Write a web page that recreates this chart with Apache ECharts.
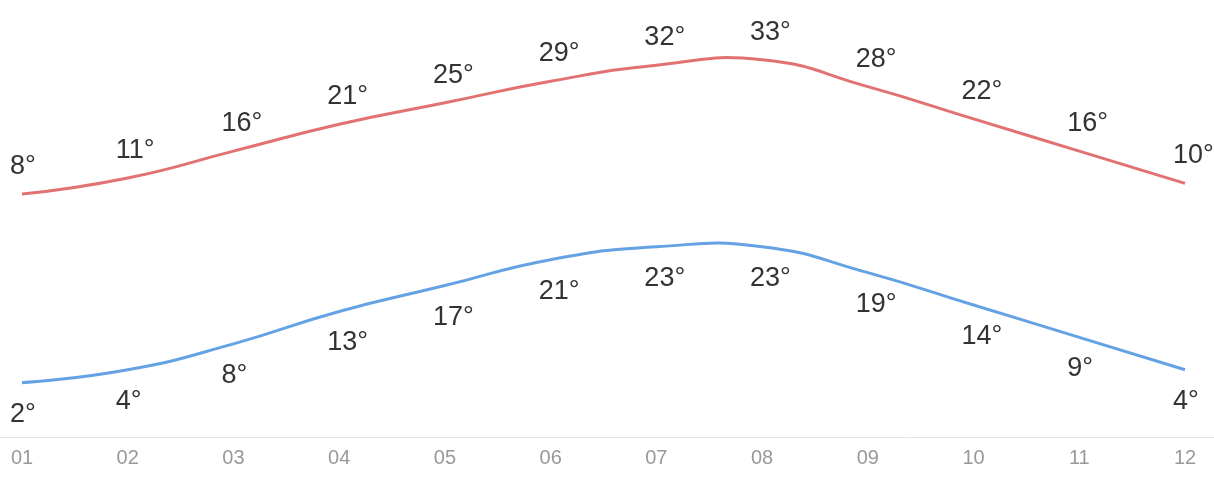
<!DOCTYPE html>
<html>
<head>
<meta charset="utf-8">
<script src="https://cdn.jsdelivr.net/npm/echarts@6/dist/echarts.min.js"></script>
<style>html,body{margin:0;padding:0;background:#fff}#c{width:1214px;height:478px}</style>
</head>
<body>
<div id="c"></div>
<script>
var months = ['01','02','03','04','05','06','07','08','09','10','11','12'];
var highTemps = [8, 11, 16, 21, 25, 29, 32, 33, 28, 22, 16, 10];
var lowTemps = [2, 4, 8, 13, 17, 21, 23, 23, 19, 14, 9, 4];

var SMOOTH = 0.5;
// Classic (unconstrained) bezier smoothing through points projected by the axes
function smoothPathItem(values, color) {
  return function (params, api) {
    if (params.dataIndex !== 0) return null;
    var pts = values.map(function (v, i) { return api.coord([i, v]); });
    var n = pts.length;
    var cps = [];
    for (var i = 0; i < n; i++) {
      var p = pts[i];
      if (i === 0 || i === n - 1) { cps.push([p[0], p[1]]); continue; }
      var prev = pts[i - 1], next = pts[i + 1];
      var vx = (next[0] - prev[0]) * SMOOTH, vy = (next[1] - prev[1]) * SMOOTH;
      var d0 = Math.hypot(p[0] - prev[0], p[1] - prev[1]);
      var d1 = Math.hypot(p[0] - next[0], p[1] - next[1]);
      var s = d0 + d1; if (s) { d0 /= s; d1 /= s; }
      cps.push([p[0] - vx * d0, p[1] - vy * d0]);
      cps.push([p[0] + vx * d1, p[1] + vy * d1]);
    }
    var d = 'M' + pts[0][0] + ' ' + pts[0][1];
    for (var j = 0; j < n - 1; j++) {
      var c0 = cps[2 * j], c1 = cps[2 * j + 1], q = pts[j + 1];
      d += ' C' + c0[0] + ' ' + c0[1] + ' ' + c1[0] + ' ' + c1[1] + ' ' + q[0] + ' ' + q[1];
    }
    return {
      type: 'path',
      shape: {pathData: d},
      style: {fill: null, stroke: color, lineWidth: 3}
    };
  };
}

var chart = echarts.init(document.getElementById('c'), null, {renderer: 'canvas'});
var labelFont = {fontFamily: '"Liberation Sans", Arial, sans-serif', fontSize: 27, color: '#333'};
var fmt = function (p) { return p.value + '°'; };
chart.setOption({
  animation: false,
  grid: [
    {left: 22, right: 29, top: 20, bottom: 41},
    {left: 0, right: 0, top: 20, bottom: 41}
  ],
  xAxis: [
    {
      type: 'category',
      data: months,
      boundaryGap: false,
      axisLine: {show: false},
      axisTick: {show: false},
      axisLabel: {color: '#999', fontSize: 20, margin: 11, fontFamily: '"Liberation Sans", Arial, sans-serif'},
      splitLine: {show: false}
    },
    {
      type: 'value', gridIndex: 1, min: 0, max: 1,
      axisLine: {show: true, onZero: false, lineStyle: {color: '#e4e4e4', width: 1}},
      axisTick: {show: false}, axisLabel: {show: false}, splitLine: {show: false}
    }
  ],
  yAxis: [
    {type: 'value', min: -37.2, max: 40.4, show: false, splitLine: {show: false}},
    {type: 'value', min: -6.38, max: 58.0, show: false, splitLine: {show: false}},
    {type: 'value', gridIndex: 1, min: 0, max: 1, show: false}
  ],
  series: [
    {
      type: 'custom', yAxisIndex: 0, data: highTemps, silent: true, clip: false,
      renderItem: smoothPathItem(highTemps, '#e27272')
    },
    {
      type: 'custom', yAxisIndex: 1, data: lowTemps, silent: true, clip: false,
      renderItem: smoothPathItem(lowTemps, '#64a2e4')
    },
    {
      type: 'line', yAxisIndex: 0, data: highTemps,
      symbol: 'circle', symbolSize: 0, showSymbol: true,
      lineStyle: {opacity: 0, width: 0},
      itemStyle: {color: '#e27272'},
      label: Object.assign({show: true, position: 'top', distance: 14, align: 'left', offset: [-12, 0], formatter: fmt}, labelFont)
    },
    {
      type: 'line', yAxisIndex: 1, data: lowTemps,
      symbol: 'circle', symbolSize: 0, showSymbol: true,
      lineStyle: {opacity: 0, width: 0},
      itemStyle: {color: '#64a2e4'},
      label: Object.assign({show: true, position: 'bottom', distance: 18, align: 'left', offset: [-12, 0], formatter: fmt}, labelFont)
    }
  ]
});
</script>
</body>
</html>
